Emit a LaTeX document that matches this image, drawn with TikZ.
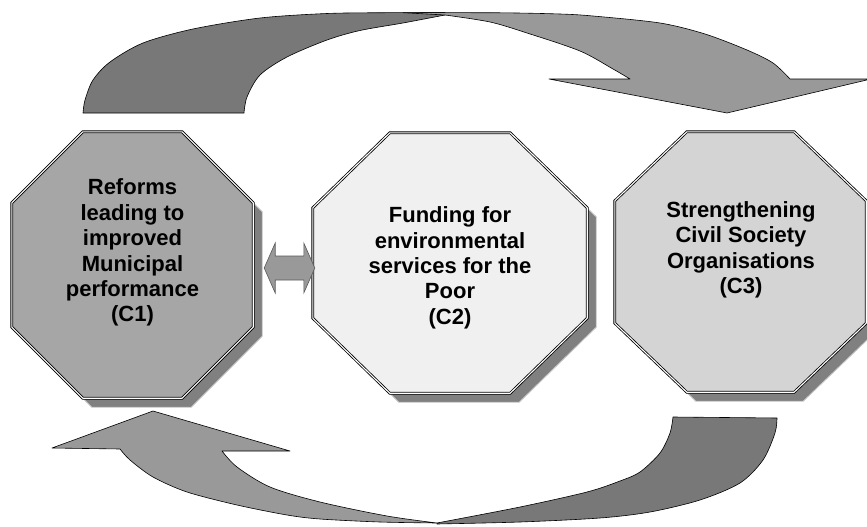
\documentclass[tikz,border=0pt]{standalone}
\usepackage{fontspec}
\setmainfont{Liberation Sans}
\usetikzlibrary{calc}
\definecolor{boxdark}{gray}{0.65}
\definecolor{boxlight}{gray}{0.94}
\definecolor{boxmid}{gray}{0.83}
\definecolor{shade}{gray}{0.5}
\definecolor{shadeline}{gray}{0.78}
\definecolor{bandlight}{gray}{0.6}
\definecolor{banddark}{gray}{0.47}
\tikzset{
  octbox/.style={rectangle, inner sep=0pt},
  octline/.style={draw=black, double=white, line width=.8pt, double distance=1.1pt, line join=miter},
  octshadow/.style={fill=shade, draw=shadeline, line width=.9pt},
  lab/.style={align=center, inner sep=0pt, font=\fontsize{22}{25.4}\selectfont\bfseries},
  band/.style={draw=black, line width=.6pt, line join=round},
  dblarrow/.style={fill=bandlight, draw=black!65, line width=.6pt}
}
% octagon round a box node: name, cut x, cut y, offset
\newcommand\octpath[4]{%
  ([shift={#4},xshift=#2]#1.north west) -- ([shift={#4},xshift=-#2]#1.north east)
  -- ([shift={#4},yshift=-#3]#1.north east) -- ([shift={#4},yshift=#3]#1.south east)
  -- ([shift={#4},xshift=-#2]#1.south east) -- ([shift={#4},xshift=#2]#1.south west)
  -- ([shift={#4},yshift=#3]#1.south west) -- ([shift={#4},yshift=-#3]#1.north west) -- cycle}

\begin{document}
\begin{tikzpicture}[x=1pt,y=-1pt]
  \path[use as bounding box, fill=white] (0,0) rectangle (867,527);
  \clip (0,0) rectangle (867,527);

  % upper band, back half then front half with the head
  \filldraw[band, fill=banddark] (83,113) -- plot[smooth] coordinates {
    (83,113) (85,100) (93,80) (110,62) (143,43) (193,29) (260,18) (327,13.5) (385,12.7) (445,12.5)
  } -- (445,15) -- plot[smooth] coordinates {
    (445,15) (403,23) (360,30.5) (327,40) (287,57) (260,75) (247,97) (244,113)
  } -- cycle;
  \filldraw[band, fill=bandlight] (403,12.7) -- (445,15) -- plot[smooth] coordinates {
    (445,15) (490,22) (527,33) (580,51) (613,69) (630,79)
  } -- (549,79) -- (727,113) -- (871,79) -- (790,79) -- plot[smooth] coordinates {
    (790,79) (773,63) (747,50) (705,34) (660,23) (593,16) (560,14) (500,12.8) (403,12.7)
  } -- cycle;

  % lower band
  \filldraw[band, fill=banddark] (437,523) -- plot[smooth] coordinates {
    (437,523) (520,507) (587,492) (620,481) (640,472) (660,453) (670,433) (673,417)
  } -- (777,418) -- plot[smooth] coordinates {
    (777,418) (775,433) (763,460) (740,483) (700,500) (650,512) (600,518) (520,522) (437,524)
  } -- cycle;
  \filldraw[band, fill=bandlight] (153,411) -- (290,451) -- (222,451) -- plot[smooth] coordinates {
    (222,451) (237,467) (270,487) (320,502) (387,516) (437,523)
  } -- plot[smooth] coordinates {
    (437,523) (380,522) (320,519) (287,515) (237,505) (187,492) (153,477) (130,460) (120,449)
  } -- (52,448) -- cycle;

  \foreach \n/\x/\y/\w/\h/\cx/\cy/\col in {
    c1/132.5/265/241/266/71pt/71pt/boxdark,
    c2/450/263/274/260/77pt/75pt/boxlight,
    c3/740.5/262/251/260/72pt/69pt/boxmid%
  } {
    \node[octbox, minimum width=\w, minimum height=\h] (\n) at (\x,\y) {};
    \filldraw[octshadow] \octpath{\n}{\cx}{\cy}{(9pt,-9pt)};
    \filldraw[octline, fill=\col] \octpath{\n}{\cx}{\cy}{(0pt,0pt)};
  }

  \node[lab] (t1) at (132.5,252.8) {Reforms\\leading to\\improved\\Municipal\\performance\\(C1)};
  \node[lab] (t2) at (450,267.8) {Funding for\\environmental\\services for the\\Poor\\(C2)};
  \node[lab] (t3) at (741,249.8) {Strengthening\\Civil Society\\Organisations\\(C3)};

  \coordinate (dl) at ([xshift=11pt,yshift=-3pt]c1.east);
  \coordinate[xshift=2pt] (dr) at (dl -| c2.west);
  \draw[dblarrow] (dl) -- ++(11,-25) -- ++(0,13) -- ($(dr)+(-11,-12)$) -- ++(0,-13) -- (dr)
    -- ++(-11,25) -- ++(0,-13) -- ($(dl)+(11,12)$) -- ++(0,13) -- cycle;
\end{tikzpicture}
\end{document}
